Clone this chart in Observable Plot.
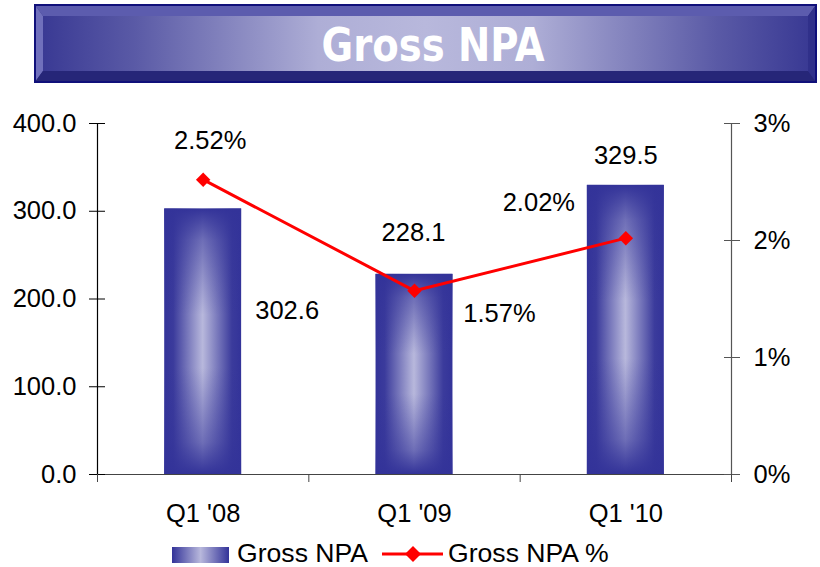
<!DOCTYPE html>
<html>
<head>
<meta charset="utf-8">
<script src="https://cdn.jsdelivr.net/npm/d3@7"></script>
<script src="https://cdn.jsdelivr.net/npm/@observablehq/plot@0.6"></script>
<style>
  html, body { margin: 0; padding: 0; background: #fff; width: 820px; height: 567px; overflow: hidden; }
  body { position: relative; font-family: "Liberation Sans", Arial, sans-serif; }
  #banner { position: absolute; left: 0; top: 0; }
  #chart { position: absolute; left: 0; top: 88px; }
  #legend { position: absolute; left: 0; top: 532px; }
</style>
</head>
<body>
<svg id="banner" width="820" height="88">
  <defs>
    <linearGradient id="bannerGrad" x1="0" x2="1" y1="0" y2="0">
      <stop offset="0" stop-color="#3a3a94"/>
      <stop offset="0.12" stop-color="#5a5aa6"/>
      <stop offset="0.36" stop-color="#aeaed6"/>
      <stop offset="0.5" stop-color="#b8b8dc"/>
      <stop offset="0.64" stop-color="#aeaed6"/>
      <stop offset="0.88" stop-color="#5a5aa6"/>
      <stop offset="1" stop-color="#3a3a94"/>
    </linearGradient>
  </defs>
  <rect x="35" y="5" width="781" height="77" fill="#2a2a82" stroke="#10107a" stroke-width="2"/>
  <polygon points="35,5 816,5 808,16 43,16" fill="#5c5cae"/>
  <polygon points="35,5 43,16 43,71 35,82" fill="#7070bc"/>
  <polygon points="35,82 43,71 808,71 816,82" fill="#262678"/>
  <polygon points="816,5 816,82 808,71 808,16" fill="#30308a"/>
  <rect x="43" y="16" width="765" height="55" fill="url(#bannerGrad)"/>
  <rect x="35" y="5" width="781" height="77" fill="none" stroke="#10107a" stroke-width="2"/>
  <text x="433" y="61" text-anchor="middle" fill="#ffffff" font-weight="bold" font-size="47"
        font-family="'Liberation Sans Narrow', 'DejaVu Sans Condensed', 'Liberation Sans', Arial, sans-serif"
        textLength="223" lengthAdjust="spacingAndGlyphs">Gross NPA</text>
</svg>
<div id="chart"></div>
<svg id="legend" width="820" height="35">
  <defs>
    <linearGradient id="legGrad" x1="0" x2="1" y1="0" y2="0">
      <stop offset="0" stop-color="#333399"/>
      <stop offset="0.5" stop-color="#b8b8dc"/>
      <stop offset="1" stop-color="#333399"/>
    </linearGradient>
  </defs>
  <rect x="172" y="15" width="57" height="16" fill="url(#legGrad)"/>
  <text x="237" y="30" font-size="26.6" fill="#000" font-family="'Liberation Sans', Arial, sans-serif">Gross NPA</text>
  <line x1="382" y1="22" x2="443" y2="22" stroke="#ff0000" stroke-width="3"/>
  <path d="M413,14 L421,22 L413,30 L405,22 Z" fill="#ff0000"/>
  <text x="448" y="30" font-size="26.6" fill="#000" font-family="'Liberation Sans', Arial, sans-serif">Gross NPA %</text>
</svg>
<script>
// ---- data ----
const quarters = ["Q1 '08", "Q1 '09", "Q1 '10"];
const grossNPA = [302.6, 228.1, 329.5];
const grossNPAPct = [2.52, 1.57, 2.02];
const leftTicks = [0, 100, 200, 300, 400];
const rightTicks = [0, 1, 2, 3];

const k = 400 / 3; // percent -> left scale units (3% at 400)
const data = quarters.map((q, i) => ({q, c: i + 0.5, npa: grossNPA[i], pct: grossNPAPct[i]}));
const halfBar = 0.182;
const font = "'Liberation Sans', Arial, sans-serif";
const fs = 25.5;

const chart = Plot.plot({
  width: 820,
  height: 440,
  marginLeft: 97,
  marginRight: 89,
  marginTop: 35,
  marginBottom: 54,
  style: {fontFamily: font, fontSize: fs + "px", color: "#000", background: "transparent", overflow: "visible"},
  x: {type: "linear", domain: [0, 3], axis: null},
  y: {domain: [0, 400], axis: null},
  marks: [
    // bars (horizontal gradient + vertical shading overlay)
    Plot.rectY(data, {x1: d => d.c - halfBar, x2: d => d.c + halfBar, y1: 0, y2: "npa", fill: "url(#barH)"}),
    Plot.rectY(data, {x1: d => d.c - halfBar, x2: d => d.c + halfBar, y1: 0, y2: "npa", fill: "url(#barV)"}),
    // axis lines
    Plot.ruleY([0], {stroke: "#444", strokeWidth: 1.2}),
    Plot.ruleX([0], {y1: 0, y2: 400, stroke: "#000", strokeWidth: 1.2}),
    Plot.ruleX([3], {y1: 0, y2: 400, stroke: "#555", strokeWidth: 1.2}),
    // left axis
    Plot.axisY({anchor: "left", label: null, ticks: leftTicks, tickFormat: d => d.toFixed(1), tickSize: 8, tickPadding: 13, stroke: "#000", fontSize: fs}),
    Plot.axisY({anchor: "left", label: null, ticks: leftTicks, tickFormat: () => "", tickSize: -8, stroke: "#000"}),
    // right axis (percent)
    Plot.axisY({anchor: "right", label: null, ticks: rightTicks.map(p => p * k), tickFormat: d => Math.round(d / k) + "%", tickSize: 8, tickPadding: 14, stroke: "#555", fontSize: fs}),
    Plot.axisY({anchor: "right", label: null, ticks: rightTicks.map(p => p * k), tickFormat: () => "", tickSize: -8, stroke: "#555"}),
    // x axis: category boundary ticks and labels
    Plot.axisX({anchor: "bottom", label: null, ticks: [0, 1, 2, 3], tickFormat: () => "", tickSize: 8, stroke: "#444"}),
    Plot.axisX({anchor: "bottom", label: null, ticks: data.map(d => d.c), tickFormat: d => quarters[Math.floor(d)], tickSize: 0, tickPadding: 29, fontSize: fs}),
    // line + markers
    Plot.lineY(data, {x: "c", y: d => d.pct * k, stroke: "#ff0000", strokeWidth: 3}),
    Plot.dot(data, {x: "c", y: d => d.pct * k, symbol: "diamond2", r: 6.5, fill: "#ff0000", stroke: "none"}),
    // bar value labels
    Plot.text([data[0]], {x: "c", y: "npa", text: d => d.npa.toFixed(1), dx: 84, dy: 102, fontSize: fs, fill: "#000"}),
    Plot.text([data[1]], {x: "c", y: "npa", text: d => d.npa.toFixed(1), dx: -1, dy: -42, fontSize: fs, fill: "#000"}),
    Plot.text([data[2]], {x: "c", y: "npa", text: d => d.npa.toFixed(1), dx: 0, dy: -30, fontSize: fs, fill: "#000"}),
    // percent labels
    Plot.text([data[0]], {x: "c", y: d => d.pct * k, text: d => d.pct.toFixed(2) + "%", dx: 7, dy: -39, fontSize: fs, fill: "#000"}),
    Plot.text([data[1]], {x: "c", y: d => d.pct * k, text: d => d.pct.toFixed(2) + "%", dx: 85, dy: 23, fontSize: fs, fill: "#000"}),
    Plot.text([data[2]], {x: "c", y: d => d.pct * k, text: d => d.pct.toFixed(2) + "%", dx: -87, dy: -35, fontSize: fs, fill: "#000"})
  ]
});

// gradient definitions for the bars
const defs = d3.select(chart).insert("defs", ":first-child");
const gh = defs.append("linearGradient").attr("id", "barH").attr("x1", 0).attr("x2", 1).attr("y1", 0).attr("y2", 0);
[[0, "#333399"], [0.12, "#3b3b9c"], [0.5, "#b8b8dc"], [0.88, "#3b3b9c"], [1, "#333399"]]
  .forEach(([o, c]) => gh.append("stop").attr("offset", o).attr("stop-color", c));
const gv = defs.append("linearGradient").attr("id", "barV").attr("x1", 0).attr("x2", 0).attr("y1", 0).attr("y2", 1);
[[0, 1], [0.12, 0.55], [0.4, 0], [0.6, 0], [0.88, 0.55], [1, 1]]
  .forEach(([o, a]) => gv.append("stop").attr("offset", o).attr("stop-color", "#333399").attr("stop-opacity", a));

document.getElementById("chart").appendChild(chart);
</script>
</body>
</html>
